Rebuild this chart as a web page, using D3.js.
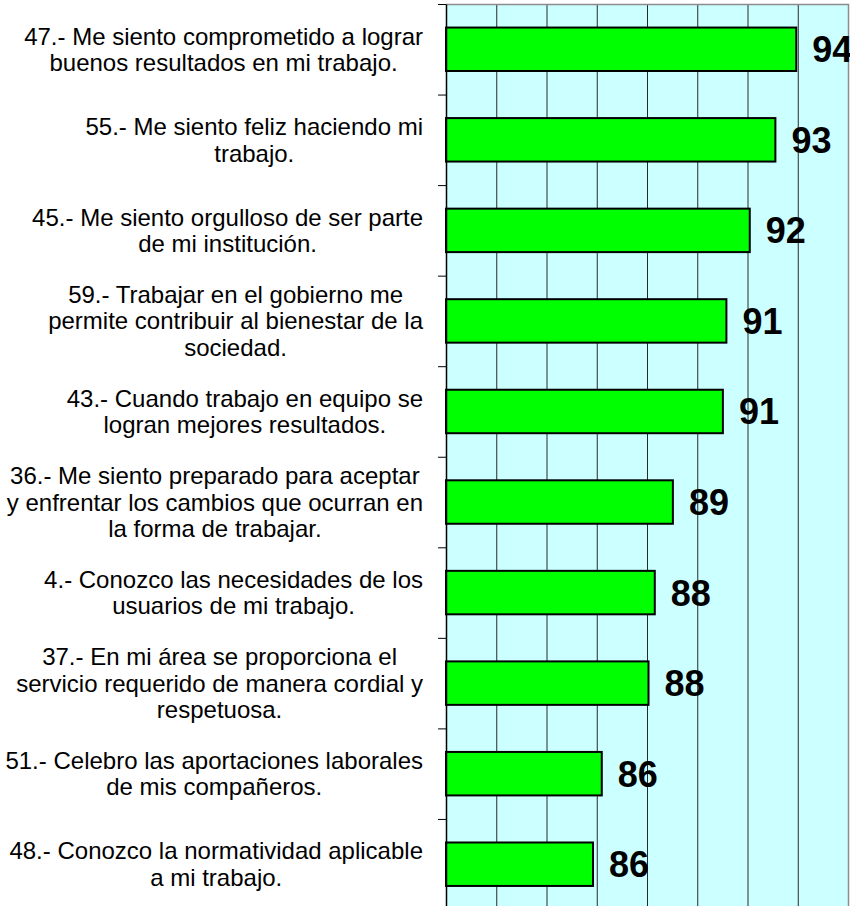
<!DOCTYPE html>
<html>
<head>
<meta charset="utf-8">
<script src="https://cdn.jsdelivr.net/npm/d3@7"></script>
<style>
  html, body { margin: 0; padding: 0; background: #ffffff; }
  svg { display: block; }
  text { font-family: "Liberation Sans", Arial, sans-serif; }
</style>
</head>
<body>
<svg id="chart" width="850" height="906"></svg>
<script>
// Reactivos (texto con saltos de línea) y porcentaje de respuestas favorables
const categories = [
  "47.- Me siento comprometido a lograr\nbuenos resultados en mi trabajo.",
  "55.- Me siento feliz haciendo mi\ntrabajo.",
  "45.- Me siento orgulloso de ser parte\nde mi institución.",
  "59.- Trabajar en el gobierno me\npermite contribuir al bienestar de la\nsociedad.",
  "43.- Cuando trabajo en equipo se\nlogran mejores resultados.",
  "36.- Me siento preparado para aceptar\ny enfrentar los cambios que ocurran en\nla forma de trabajar.",
  "4.- Conozco las necesidades de los\nusuarios de mi trabajo.",
  "37.- En mi área se proporciona el\nservicio requerido de manera cordial y\nrespetuosa.",
  "51.- Celebro las aportaciones laborales\nde mis compañeros.",
  "48.- Conozco la normatividad aplicable\na mi trabajo."
];
const values = [93.94, 93.11, 92.09, 91.16, 91.02, 89.03, 88.31, 88.06, 86.2, 85.85];
const xDomain = [80, 96];
const gridTicks = [82, 84, 86, 88, 90, 92, 94];

const svg = d3.select("#chart");
const plot = { left: 446, right: 848, top: 4, bottom: 909.5 };

const x = d3.scaleLinear().domain(xDomain).range([plot.left, plot.right]);
const y = d3.scaleBand()
  .domain(d3.range(categories.length))
  .range([plot.top, plot.bottom])
  .paddingInner(0.52)
  .paddingOuter(0.26);
// index scale used for the category tick marks at band boundaries
const yEdge = d3.scaleLinear().domain([0, categories.length]).range([plot.top, plot.bottom]);

// plot background
svg.append("rect")
  .attr("x", plot.left).attr("y", plot.top)
  .attr("width", plot.right - plot.left).attr("height", plot.bottom - plot.top)
  .attr("fill", "#ccffff");

// vertical gridlines
svg.append("g")
  .attr("transform", `translate(0,${plot.top})`)
  .call(d3.axisBottom(x).tickValues(gridTicks).tickSize(plot.bottom - plot.top).tickFormat(""))
  .call(g => g.select(".domain").remove())
  .call(g => g.selectAll(".tick line").attr("stroke", "#2a2a2a").attr("stroke-width", 1));

// top and right border of the plot area
svg.append("path")
  .attr("d", `M${plot.left},${plot.top + 0.5}H${plot.right + 0.5}V${plot.bottom}`)
  .attr("fill", "none").attr("stroke", "#8c8c8c").attr("stroke-width", 1.5);

// bars
svg.append("g").selectAll("rect")
  .data(values)
  .join("rect")
  .attr("x", x(xDomain[0]))
  .attr("y", (d, i) => y(i))
  .attr("width", d => x(d) - x(xDomain[0]))
  .attr("height", y.bandwidth())
  .attr("fill", "#00ff00")
  .attr("stroke", "#000")
  .attr("stroke-width", 2);

// value labels
const fmt = d3.format(".0f");
svg.append("g").selectAll("text")
  .data(values)
  .join("text")
  .attr("x", d => x(d) + 16)
  .attr("y", (d, i) => y(i) + y.bandwidth() / 2 + 13)
  .attr("font-size", 36)
  .attr("font-weight", "bold")
  .attr("fill", "#000")
  .text(d => fmt(d));

// category axis with ticks between categories
svg.append("g")
  .attr("transform", `translate(${plot.left},0)`)
  .call(d3.axisLeft(yEdge).tickValues(d3.range(categories.length + 1)).tickSize(8).tickSizeOuter(0).tickFormat(""))
  .call(g => g.select(".domain").attr("stroke", "#000").attr("stroke-width", 1.5))
  .call(g => g.selectAll(".tick line").attr("stroke", "#000"));

// category labels: a right-aligned text block per category, lines centred inside it
const lineH = 26.5;
const labelRight = 423;
const lab = svg.append("g").attr("font-size", 24).attr("fill", "#000").attr("text-anchor", "middle");
categories.forEach((c, i) => {
  const lines = c.split("\n");
  const cy = y(i) + y.bandwidth() / 2;
  const first = cy - (lines.length - 1) * lineH / 2 + 8.5;
  const t = lab.append("text");
  const spans = lines.map((ln, k) =>
    t.append("tspan").attr("y", first + k * lineH).text(ln));
  const maxW = d3.max(spans, s => s.node().getComputedTextLength());
  spans.forEach(s => s.attr("x", labelRight - maxW / 2));
});
</script>
</body>
</html>
